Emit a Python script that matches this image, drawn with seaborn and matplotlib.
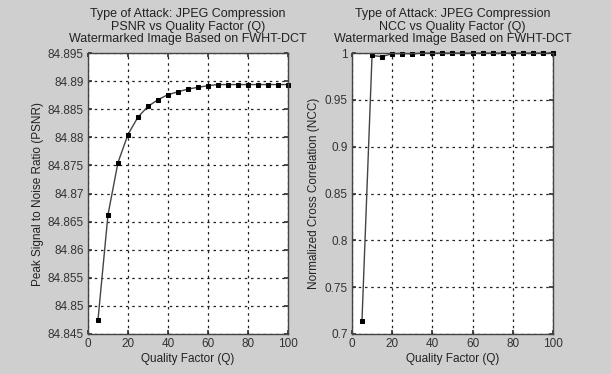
import matplotlib
matplotlib.use("Agg")
import matplotlib.pyplot as plt
import seaborn as sns
import pandas as pd
from matplotlib.ticker import FuncFormatter

# quality factor values
quality = [5, 10, 15, 20, 25, 30, 35, 40, 45, 50,
           55, 60, 65, 70, 75, 80, 85, 90, 95, 100]

psnr = [84.8475, 84.8662, 84.8755, 84.8805, 84.8836, 84.8855, 84.8867, 84.8876,
        84.8881, 84.8886, 84.8889, 84.8892, 84.8894, 84.8894, 84.8894, 84.8894,
        84.8894, 84.8894, 84.8894, 84.8894]

ncc = [0.7144, 0.9975, 0.9962, 0.9995, 0.9995, 0.9993, 1.0, 1.0, 1.0, 1.0,
       1.0, 1.0, 1.0, 1.0, 1.0, 1.0, 1.0, 1.0, 1.0, 1.0]

psnr_ticks = [84.845, 84.85, 84.855, 84.86, 84.865, 84.87, 84.875, 84.88,
              84.885, 84.89, 84.895]
ncc_ticks = [0.7, 0.75, 0.8, 0.85, 0.9, 0.95, 1.0]
q_ticks = [0, 20, 40, 60, 80, 100]

sns.set_theme(style="ticks")
plt.rcParams['font.family'] = ['Liberation Sans', 'DejaVu Sans']

bg = "#cfcfcf"
fig = plt.figure(figsize=(6.11, 3.74), dpi=100, facecolor=bg)
ax1 = fig.add_axes([0.144, 0.107, 0.327, 0.751])
ax2 = fig.add_axes([0.576, 0.107, 0.329, 0.751])

df = pd.DataFrame({"Q": quality, "PSNR": psnr, "NCC": ncc})


def style_axes(ax, yticks, ylim, ylabel, title):
    ax.set_facecolor("white")
    ax.set_xlim(0, 100)
    ax.set_ylim(*ylim)
    ax.set_xticks(q_ticks)
    ax.set_yticks(yticks)
    ax.yaxis.set_major_formatter(FuncFormatter(lambda v, p: f"{v:g}"))
    ax.grid(True, linestyle=(0, (2, 3)), color="#222222", linewidth=0.9)
    ax.tick_params(direction="in", length=3, labelsize=8.5, colors="#333333",
                   top=True, right=True, pad=3)
    for s in ax.spines.values():
        s.set_color("#444444")
        s.set_linewidth(1.0)
    ax.set_xlabel("Quality Factor (Q)", fontsize=8.5, color="#222222", labelpad=2)
    ax.set_ylabel(ylabel, fontsize=8.5, color="#222222", labelpad=3)
    ax.set_title(title, fontsize=9, color="#222222", linespacing=1.05, pad=8)


sns.lineplot(data=df, x="Q", y="PSNR", ax=ax1, color="#444444", linewidth=1.0,
             marker="s", markersize=3.3, markerfacecolor="black",
             markeredgecolor="black", clip_on=False)
style_axes(ax1, psnr_ticks, (84.845, 84.895),
           "Peak Signal to Noise Ratio (PSNR)",
           "Type of Attack: JPEG Compression\nPSNR vs Quality Factor (Q)\n"
           "Watermarked Image Based on FWHT-DCT")

sns.lineplot(data=df, x="Q", y="NCC", ax=ax2, color="#444444", linewidth=1.0,
             marker="s", markersize=3.3, markerfacecolor="black",
             markeredgecolor="black", clip_on=False)
style_axes(ax2, ncc_ticks, (0.7, 1.0),
           "Normalized Cross Correlation (NCC)",
           "Type of Attack: JPEG Compression\nNCC vs Quality Factor (Q)\n"
           "Watermarked Image Based on FWHT-DCT")

fig.savefig("out.png", dpi=100, facecolor=bg)
